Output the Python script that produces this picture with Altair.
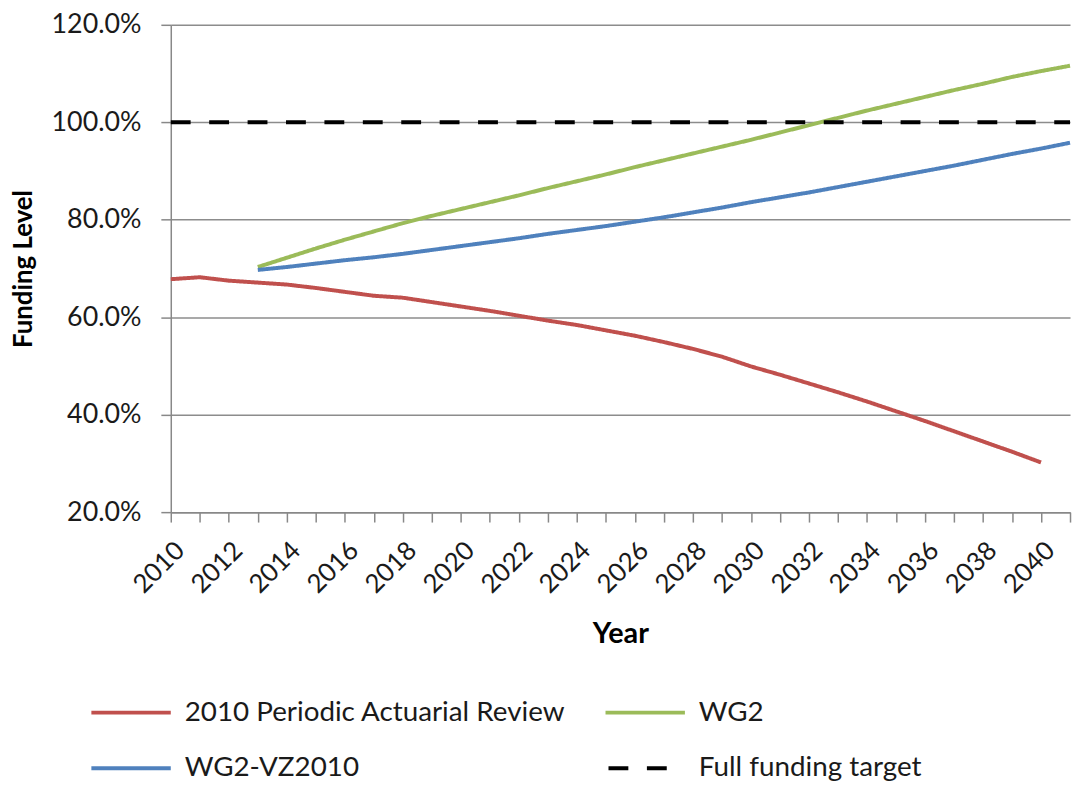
import altair as alt
import pandas as pd

# ---- data ----
review_years = list(range(2010, 2041))
review = [67.8, 68.2, 67.5, 67.1, 66.7, 66.0, 65.2, 64.4, 64.0, 63.1,
          62.2, 61.3, 60.3, 59.3, 58.4, 57.3, 56.2, 54.9, 53.5, 51.9,
          49.9, 48.2, 46.4, 44.6, 42.7, 40.7, 38.7, 36.6, 34.5, 32.4, 30.2]

wg_years = list(range(2013, 2042))
wg2 = [70.3, 72.2, 74.1, 75.9, 77.6, 79.3, 80.8, 82.2, 83.6, 85.0,
       86.5, 87.9, 89.3, 90.8, 92.2, 93.6, 95.0, 96.4, 97.9, 99.4,
       100.9, 102.4, 103.8, 105.2, 106.6, 107.9, 109.3, 110.5, 111.6]
vz2010 = [69.7, 70.3, 71.0, 71.7, 72.3, 73.0, 73.8, 74.6, 75.4, 76.2,
          77.1, 77.9, 78.7, 79.6, 80.5, 81.5, 82.5, 83.6, 84.6, 85.6,
          86.7, 87.8, 88.9, 90.0, 91.1, 92.3, 93.5, 94.6, 95.8]

target_years = [2010, 2041]
target = [100.0, 100.0]

series_names = ["2010 Periodic Actuarial Review", "WG2", "WG2-VZ2010", "Full funding target"]
series_colors = ["#C0504D", "#9BBB59", "#4F81BD", "#000000"]
series_dashes = [[1, 0], [1, 0], [1, 0], [20, 18.7]]

y_ticks = [20, 40, 60, 80, 100, 120]
x_ticks = list(range(2010, 2042))

# ---- table ----
rows = []
for yr, v in zip(review_years, review):
    rows.append({"year": yr, "value": v, "series": series_names[0]})
for yr, v in zip(wg_years, wg2):
    rows.append({"year": yr, "value": v, "series": series_names[1]})
for yr, v in zip(wg_years, vz2010):
    rows.append({"year": yr, "value": v, "series": series_names[2]})
for yr, v in zip(target_years, target):
    rows.append({"year": yr, "value": v, "series": series_names[3]})
df = pd.DataFrame(rows)

FONT = "Lato"
legend = alt.Legend(
    title=None, orient="none", legendX=-54, legendY=679, columns=2,
    direction="horizontal",
    symbolType="M-4,0H4", symbolSize=400, symbolStrokeWidth=4,
    symbolDashOffset=35.7,
    labelFontSize=28, labelFont=FONT, labelColor="#1a1a1a", labelOffset=40,
    columnPadding=32, rowPadding=28, labelLimit=600,
)

chart = alt.Chart(df).mark_line(strokeWidth=4, strokeCap="butt").encode(
    x=alt.X("year:Q",
            scale=alt.Scale(domain=[2010, 2041], nice=False, zero=False),
            axis=alt.Axis(values=x_ticks, title="Year",
                          labelExpr="datum.value % 2 == 0 ? format(datum.value, 'd') : ''",
                          labelAngle=-45, labelOverlap=False, labelFlush=False,
                          labelFontSize=26, labelFont=FONT, labelColor="#1a1a1a",
                          labelPadding=15, tickSize=10, tickColor="#888888",
                          domainColor="#888888", domainWidth=1.5, tickWidth=1.5,
                          grid=False, titleFontSize=29, titleFont=FONT,
                          titleFontWeight="bold", titleColor="#000000",
                          titlePadding=22)),
    y=alt.Y("value:Q",
            scale=alt.Scale(domain=[20, 120], nice=False, zero=False),
            axis=alt.Axis(values=y_ticks, title="Funding Level",
                          labelExpr="format(datum.value, '.1f') + '%'",
                          labelFontSize=27, labelFont=FONT, labelColor="#1a1a1a",
                          labelPadding=20, tickSize=10, tickColor="#888888",
                          tickWidth=1.5, domainColor="#888888", domainWidth=1.5,
                          grid=True, gridColor="#8c8c8c", gridWidth=1.5,
                          titleFontSize=26, titleFont=FONT, titleFontWeight="bold",
                          titleColor="#000000", titleX=-135)),
    color=alt.Color("series:N",
                    scale=alt.Scale(domain=series_names, range=series_colors),
                    legend=legend),
    strokeDash=alt.StrokeDash("series:N",
                              scale=alt.Scale(domain=series_names, range=series_dashes),
                              legend=legend),
).properties(
    width=906, height=491,
    autosize=alt.AutoSizeParams(type="none"),
    padding={"left": 164, "top": 14, "right": 3, "bottom": 274},
).configure_view(strokeWidth=0)

chart.save("out.html", embed_options={"renderer": "svg", "actions": False})
